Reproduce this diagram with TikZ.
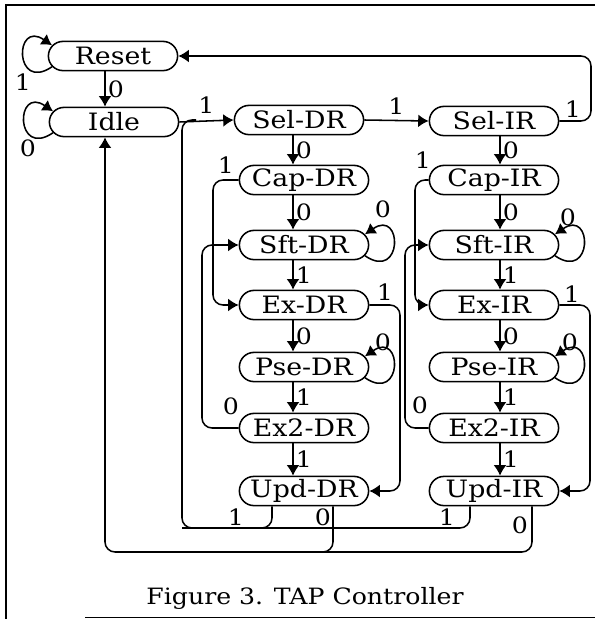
\documentclass[tikz,border=0pt]{standalone}
\usepackage{fontspec}
\setmainfont{DejaVu Serif}[FakeStretch=1.12]
\usetikzlibrary{arrows.meta,positioning,calc,shapes.misc}
\tikzset{
  st/.style={draw,rounded rectangle,minimum width=3.3cm,minimum height=7.3mm,inner sep=1pt,
    font=\fontsize{17}{19}\selectfont},
  arr/.style={-{Latex[length=2.6mm,width=3.2mm]}},
  rnd/.style={rounded corners=2.5mm},
  lbl/.style={font=\fontsize{16}{18}\selectfont,inner sep=1.5pt},
}

\begin{document}
\begin{tikzpicture}[x=0.025cm,y=-0.025cm,line width=1.1pt]
  \useasboundingbox (0,0) rectangle (595,619);
  % page frame
  \draw (6,619) -- (6,5) -- (595,5);
  \draw[line width=0.6pt] (85,617) -- (595,617);

  % states
  \node[st] (reset) at (113,56) {Reset};
  \node[st] (idle) at (114,122) {Idle};
  \node[st] (seldr) at (299,120) {Sel-DR};
  \node[st] (selir) at (494,121) {Sel-IR};
  \foreach \n/\t/\y in {cap/Cap/180,sft/Sft/245,ex/Ex/305,pse/Pse/367,extwo/Ex2/428,upd/Upd/491}{
    \node[st] (\n dr) at (304,\y) {\t-DR};
    \node[st] (\n ir) at (494,\y) {\t-IR};
  }

  % columns and rails
  \coordinate (ac) at (105,0);
  \coordinate (dc) at (293,0);
  \coordinate (ic) at (500,0);
  \coordinate (top) at (591,56);
  \coordinate (jn) at (182,0);
  \coordinate (rail1) at (0,528);
  \coordinate (rail0) at (0,552);
  \coordinate (dcap) at (213,0);
  \coordinate (dex) at (202,0);
  \coordinate (icap) at (415,0);
  \coordinate (iex) at (405,0);
  \coordinate (dout) at (400,0);
  \coordinate (iout) at (590,0);
  \coordinate (dup) at (272,0);
  \coordinate (ddn) at (333,0);
  \coordinate (iup) at (470,0);
  \coordinate (idn) at (532,0);

  % self loops
  \draw[arr] (reset.190) .. controls +(-38,26) and +(-38,-26) .. (reset.170);
  \draw[arr] (idle.190) .. controls +(-38,26) and +(-38,-26) .. (idle.170);
  \foreach \s in {sftdr,psedr,sftir,pseir}
    \draw[arr] (\s.-10) .. controls +(38,26) and +(38,-26) .. (\s.10);
  \node[lbl] at (23,82) {1};
  \node[lbl] at (28,148) {0};
  \node[lbl] at (383,209) {0};
  \node[lbl] at (383,342) {0};
  \node[lbl] at (568,217) {0};
  \node[lbl] at (570,342) {0};

  % straight arrows
  \draw[arr] (reset.south -| ac) -- node[lbl,right]{0} (idle.north -| ac);
  \draw[arr] (idle.east) -- node[lbl,above=3pt]{1} (seldr.west);
  \draw[arr] (seldr.east) -- node[lbl,above=2pt]{1} (selir.west);
  \foreach \a/\b/\l in {sel/cap/0,cap/sft/0,sft/ex/1,ex/pse/0,pse/extwo/1,extwo/upd/1}{
    \draw[arr] (\a dr.south -| dc) -- node[lbl,right]{\l} (\b dr.north -| dc);
    \draw[arr] (\a ir.south -| ic) -- node[lbl,right]{\l} (\b ir.north -| ic);
  }

  % back and skip arcs
  \draw[arr,rnd] (selir.east) -| (top) -- (reset.east);
  \node[lbl] at (573,109) {1};
  \draw[arr,rnd] (capdr.west) -| (dcap |- exdr.west) -- (exdr.west);
  \draw[arr,rnd] (extwodr.west) -| (dex |- sftdr.west) -- (sftdr.west);
  \draw[arr,rnd] (capir.west) -| (icap |- exir.west) -- (exir.west);
  \draw[arr,rnd] (extwoir.west) -| (iex |- sftir.west) -- (sftir.west);
  \node[lbl] at (226,165) {1};
  \node[lbl] at (231,406) {0};
  \node[lbl] at (423,160) {1};
  \node[lbl] at (420,405) {0};
  \draw[arr,rnd] (exdr.east) -| (dout |- upddr.east) -- (upddr.east);
  \draw[arr,rnd] (exir.east) -| (iout |- updir.east) -- (updir.east);
  \node[lbl] at (385,292) {1};
  \node[lbl] at (572,294) {1};

  % update exits
  \draw[rnd] (updir.south -| iup) |- (jn |- rail1) -- (jn |- seldr.west) -- ($(jn |- seldr.west)+(14,0)$);
  \draw[rnd] (upddr.south -| dup) |- (jn |- rail1);
  \draw[arr,rnd] (upddr.south -| ddn) |- (ac |- rail0) -- (idle.south -| ac);
  \draw[rnd] (updir.south -| idn) |- (200,552);
  \node[lbl] at (236,517) {1};
  \node[lbl] at (323,517) {0};
  \node[lbl] at (447,517) {1};
  \node[lbl] at (520,525) {0};

  % caption
  \node[font=\fontsize{16}{18}\selectfont] (caption) at (305,598) {Figure 3. TAP Controller};
\end{tikzpicture}
\end{document}
